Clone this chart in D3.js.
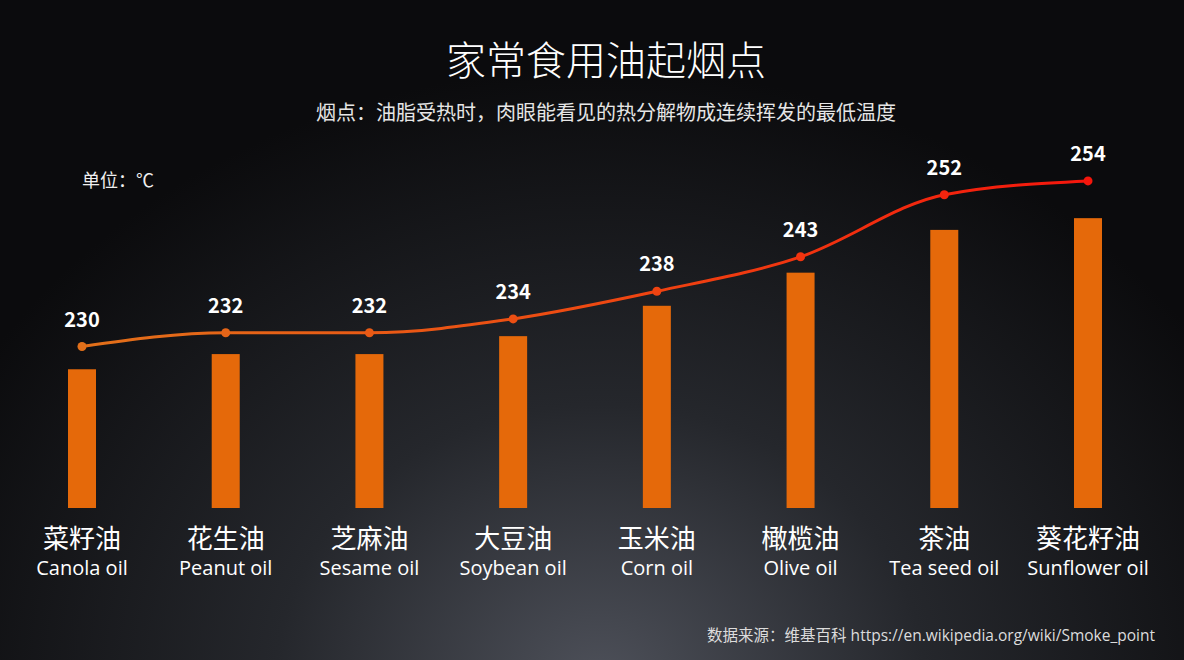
<html>
<head>
<meta charset="utf-8">
<style>
  body { margin: 0; background: #0c0c0e; }
  text { font-family: "Noto Sans CJK SC", "Noto Sans", sans-serif; }
  text.en, text.src { font-family: "Open Sans", "Noto Sans CJK SC", sans-serif; }
</style>
</head>
<body>
<svg id="chart" width="1184" height="660"></svg>
<script src="https://cdn.jsdelivr.net/npm/d3@7"></script>
<script>
// oils, Chinese and English names
const namesCn = ["菜籽油", "花生油", "芝麻油", "大豆油", "玉米油", "橄榄油", "茶油", "葵花籽油"]
const namesEn = ["Canola oil", "Peanut oil", "Sesame oil", "Soybean oil", "Corn oil", "Olive oil", "Tea seed oil", "Sunflower oil"]
// smoke point, °C (line + labels)
const smokePoint = [230, 232, 232, 234, 238, 243, 252, 254]
// bar heights, read against the same hidden axis
const barValues = [226.7, 228.9, 228.9, 231.5, 235.9, 240.7, 246.9, 248.6]

const svg = d3.select("#chart")
const W = 1184, H = 660
const bottom = 508

let defs = svg.append("defs")

// background: dark, lighter towards bottom centre
let bg = defs.append("radialGradient").attr("id", "bg")
    .attr("gradientUnits", "userSpaceOnUse")
    .attr("cx", 600).attr("cy", 680).attr("r", 720)
    .attr("gradientTransform", "translate(600,680) scale(1,0.85) translate(-600,-680)")
bg.append("stop").attr("offset", "0%").attr("stop-color", "#4d5059")
bg.append("stop").attr("offset", "45%").attr("stop-color", "#25272c")
bg.append("stop").attr("offset", "100%").attr("stop-color", "#0b0b0d")
svg.append("rect").attr("width", W).attr("height", H).attr("fill", "url(#bg)")

let x = d3.scalePoint().domain(namesCn).range([82, 1088])
let y = d3.scaleLinear().domain([205, 255]).range([519, 174])

let lineColor = d3.scaleLinear()
    .domain([82, 585, 1088])
    .range(["#e2701a", "#ee4a12", "#f5160c"])

let lg = defs.append("linearGradient").attr("id", "lineGrad")
    .attr("gradientUnits", "userSpaceOnUse")
    .attr("x1", 82).attr("x2", 1088).attr("y1", 0).attr("y2", 0)
lg.append("stop").attr("offset", "0%").attr("stop-color", lineColor(82))
lg.append("stop").attr("offset", "50%").attr("stop-color", lineColor(585))
lg.append("stop").attr("offset", "100%").attr("stop-color", lineColor(1088))

// titles
svg.append("text").attr("x", 606).attr("y", 75)
    .attr("text-anchor", "middle").attr("fill", "#ffffff")
    .attr("font-size", 40).attr("font-weight", 300)
    .text("家常食用油起烟点")
svg.append("text").attr("x", 606).attr("y", 120)
    .attr("text-anchor", "middle").attr("fill", "#e6e6e6")
    .attr("font-size", 20)
    .text("烟点：油脂受热时，肉眼能看见的热分解物成连续挥发的最低温度")
svg.append("text").attr("x", 82).attr("y", 187)
    .attr("fill", "#f0f0f0").attr("font-size", 18)
    .text("单位：℃")

// bars
svg.selectAll("rect.bar")
    .data(barValues)
    .enter().append("rect")
    .attr("class", "bar")
    .attr("x", (d, i) => x(namesCn[i]) - 14)
    .attr("width", 28)
    .attr("y", d => y(d))
    .attr("height", d => bottom - y(d))
    .attr("fill", "#e5690a")

// line
let line = d3.line()
    .x((d, i) => x(namesCn[i]))
    .y(d => y(d))
    .curve(d3.curveMonotoneX)
svg.append("path")
    .attr("d", line(smokePoint))
    .attr("fill", "none")
    .attr("stroke", "url(#lineGrad)")
    .attr("stroke-width", 3)

svg.selectAll("circle")
    .data(smokePoint)
    .enter().append("circle")
    .attr("cx", (d, i) => x(namesCn[i]))
    .attr("cy", d => y(d))
    .attr("r", 4.5)
    .attr("fill", (d, i) => lineColor(x(namesCn[i])))

svg.selectAll("text.val")
    .data(smokePoint)
    .enter().append("text")
    .attr("class", "val")
    .attr("x", (d, i) => x(namesCn[i]))
    .attr("y", d => y(d) - 20)
    .attr("text-anchor", "middle")
    .attr("fill", "#ffffff")
    .attr("font-size", 20).attr("font-weight", "bold")
    .text(d => d)

// category labels
svg.selectAll("text.cn")
    .data(namesCn)
    .enter().append("text")
    .attr("class", "cn")
    .attr("x", d => x(d)).attr("y", 548)
    .attr("text-anchor", "middle").attr("fill", "#ffffff")
    .attr("font-size", 26)
    .text(d => d)
svg.selectAll("text.en")
    .data(namesEn)
    .enter().append("text")
    .attr("class", "en")
    .attr("x", (d, i) => x(namesCn[i])).attr("y", 575)
    .attr("text-anchor", "middle").attr("fill", "#ffffff")
    .attr("font-size", 20)
    .text(d => d)

// source
svg.append("text").attr("class", "src").attr("x", 1155).attr("y", 641)
    .attr("text-anchor", "end").attr("fill", "#dcdcdc")
    .attr("font-size", 15.5)
    .text("数据来源：维基百科 https://en.wikipedia.org/wiki/Smoke_point")
</script>
</body>
</html>
